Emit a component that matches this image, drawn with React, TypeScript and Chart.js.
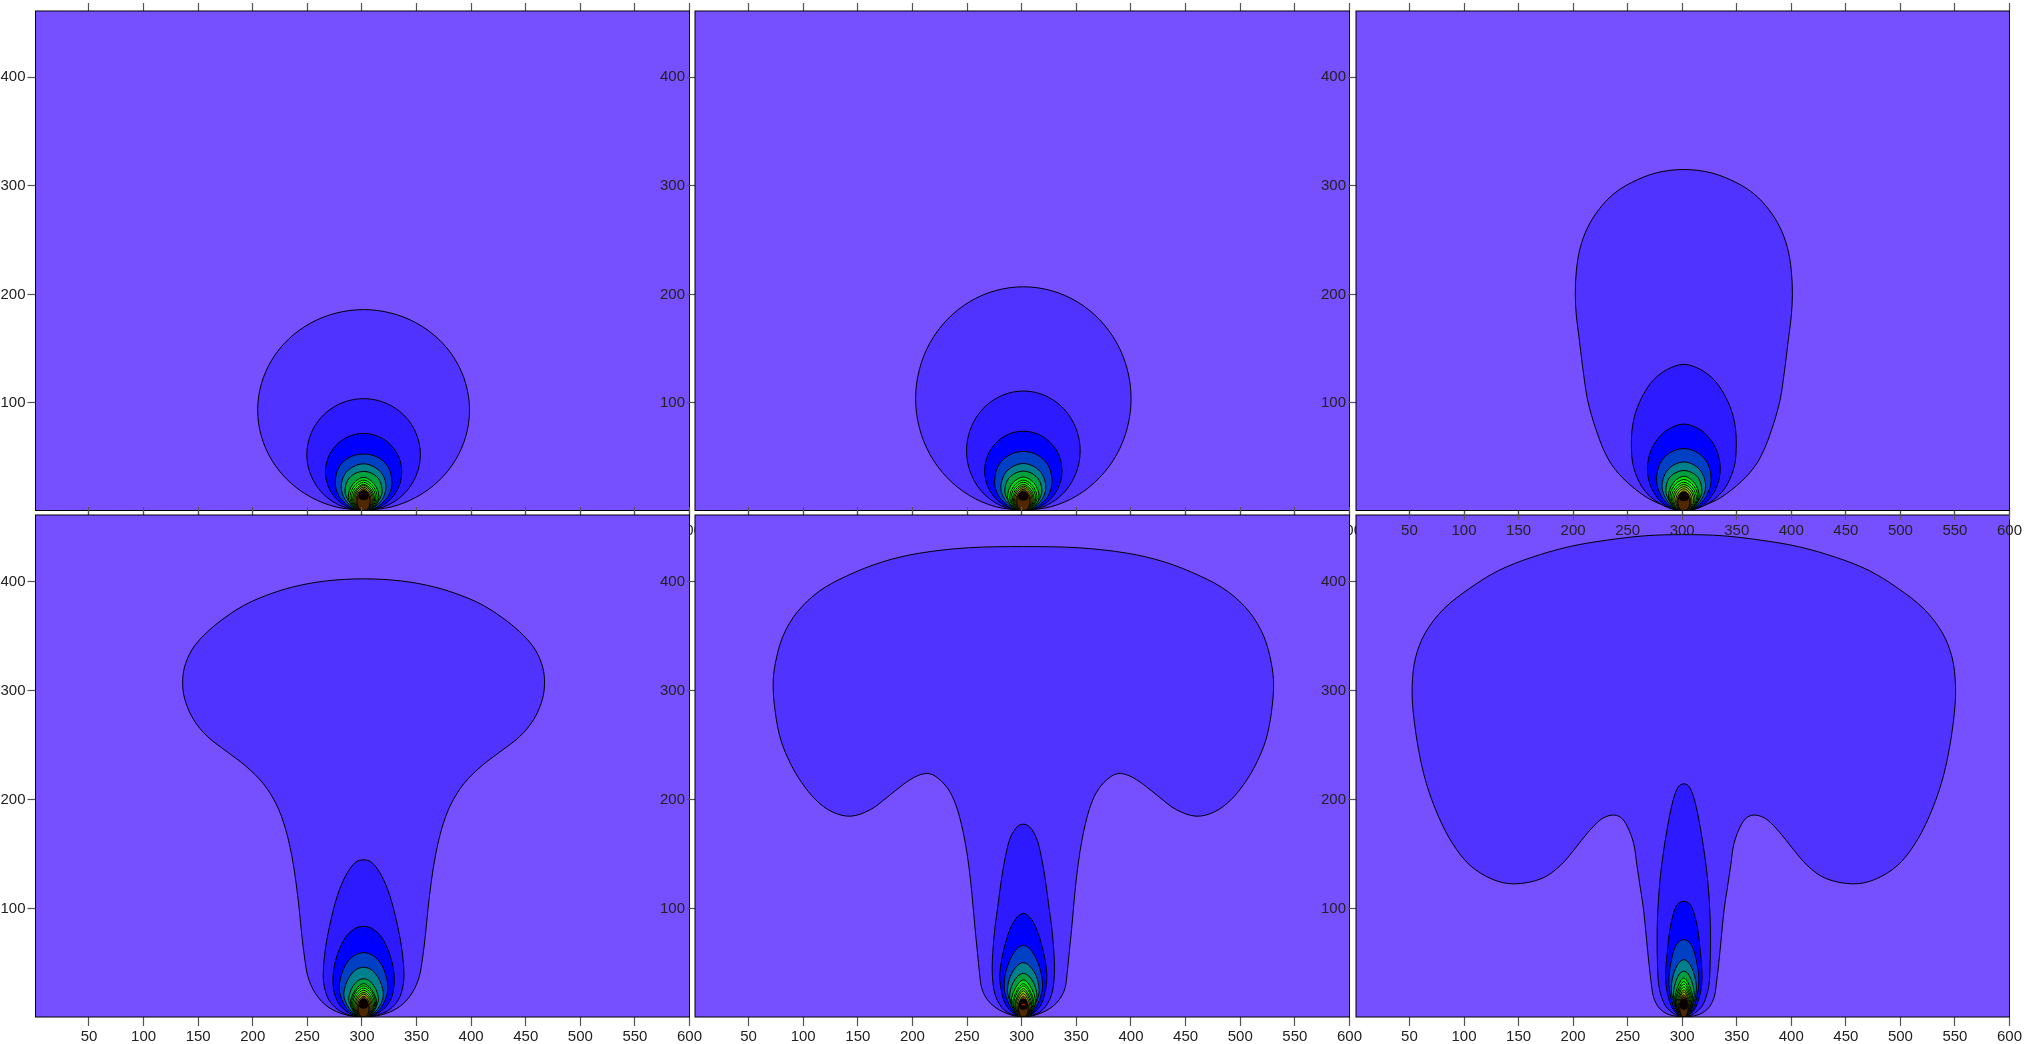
import React, { useEffect, useRef } from "react";
import { Chart, registerables } from "chart.js";

Chart.register(...registerables);

const xTicks = [50, 100, 150, 200, 250, 300, 350, 400, 450, 500, 550, 600];
const yTicks = [100, 200, 300, 400];
const xRange = [1, 600];
const yRange = [1, 461];
const centreX = 301.5;
const baseY = 1;

const backgroundColor = "#764fff";
const levelColors = [
  "#5033ff", "#2d1aff", "#0000ff", "#0040c4", "#00808c", "#00a040", "#00e010", "#00ff00",
  "#20ff00", "#50e800", "#90d000", "#b0b000", "#806000", "#502800", "#0c0000", "#d02000",
];

// Each contour: right half of the outline as [half-width, y], bottom to top.
const panel1 = [
  [[25.1, 4.2], [48.5, 13.4], [68.6, 28.1], [84, 47.3], [93.7, 69.6], [97, 93.5], [93.7, 117.4], [84, 139.8], [68.6, 158.9], [48.5, 173.6], [25.1, 182.8], [0, 186]],
  [[13.5, 2.8], [26, 7.9], [36.8, 16.1], [45, 26.8], [50.2, 39.2], [52, 52.5], [50.2, 65.8], [45, 78.3], [36.8, 88.9], [26, 97.1], [13.5, 102.2], [0, 104]],
  [[9, 2.2], [17.5, 5.8], [24.7, 11.4], [30.3, 18.8], [33.8, 27.3], [35, 36.5], [33.8, 45.7], [30.3, 54.3], [24.7, 61.6], [17.5, 67.2], [9, 70.8], [0, 72]],
  [[9, 2.5], [16, 7], [23, 15], [26, 27], [22.5, 41], [13, 50], [0, 53]],
  [[7, 2.5], [13, 6.5], [18, 13], [20.5, 23], [17.5, 34], [10, 41], [0, 44]],
  [[6, 2.5], [11, 6], [15, 12], [17, 19], [14.5, 29], [8, 35], [0, 37]],
  [[8.4, 3.2], [14, 13], [10, 25], [0, 31.5]],
  [[7.5, 3], [12.5, 12], [9, 23], [0, 29]],
  [[6.7, 2.8], [11.2, 11.5], [8, 21.5], [0, 27]],
  [[6, 2.6], [10, 10.5], [7.2, 20], [0, 25]],
  [[5.4, 2.5], [9, 10], [6.5, 19], [0, 24]],
  [[4.8, 2.4], [8, 9.5], [5.8, 18], [0, 22.5]],
  [[4.2, 2.2], [7, 9], [5, 17], [0, 21]],
  [[3.6, 2.1], [6, 8.5], [4.3, 16], [0, 19.5]],
  [[0, 11], [3.5, 12], [3.8, 16], [3, 18], [0, 18.5]],
];

const panel2 = [
  [[25.5, 4.5], [49.3, 14.8], [69.7, 31.2], [85.4, 52.5], [95.2, 77.3], [98.6, 104], [95.2, 130.7], [85.4, 155.5], [69.7, 176.8], [49.3, 193.2], [25.5, 203.5], [0, 207]],
  [[13.5, 2.9], [26, 8.4], [36.8, 17.1], [45, 28.5], [50.2, 41.8], [52, 56], [50.2, 70.2], [45, 83.5], [36.8, 94.9], [26, 103.6], [13.5, 109.1], [0, 111]],
  [[9.2, 2.2], [17.7, 5.9], [25, 11.7], [30.7, 19.3], [34.2, 28], [35.4, 37.5], [34.2, 47], [30.7, 55.8], [25, 63.3], [17.7, 69.1], [9.2, 72.8], [0, 74]],
  [[9, 2.5], [16, 7], [23, 15], [26.3, 27], [23, 42], [13, 52], [0, 55.4]],
  [[7, 2.5], [13, 6.5], [18, 13], [20.6, 22], [17.5, 34], [10, 41.3], [0, 44.3]],
  [[6, 2.5], [11, 6], [15, 12], [17, 19], [14.5, 29], [8, 35], [0, 37.3]],
  [[8.6, 3.2], [14.4, 13], [10.4, 25.5], [0, 31.8]],
  [[7.5, 3], [12.5, 12], [9, 23], [0, 29]],
  [[6.8, 2.8], [11.3, 11.5], [8.1, 21.5], [0, 27]],
  [[6, 2.6], [10, 10.5], [7.2, 20], [0, 25]],
  [[5.4, 2.5], [9, 10], [6.5, 18.7], [0, 23.5]],
  [[4.8, 2.4], [8, 9.5], [5.8, 17.6], [0, 22]],
  [[4.2, 2.2], [7, 9], [5, 16.5], [0, 20.5]],
  [[3.6, 2.1], [6, 8.5], [4.3, 15.4], [0, 19]],
  [[0, 10.5], [3.5, 11.5], [3.8, 15.5], [3, 17.2], [0, 17.5]],
];

const panel3 = [
  [[8, 1.8], [17, 5], [34, 13], [53, 28], [66, 43], [74, 58], [80, 74], [85, 90], [88.5, 104], [91, 120], [93, 135], [96, 160], [98.5, 180], [99.5, 200], [98.5, 222], [95, 243], [88, 262], [78, 278], [65, 292], [48, 303], [25, 312], [0, 315]],
  [[7, 1.8], [14, 3.5], [23, 8], [31, 14], [38, 22], [43.5, 33], [47, 45], [48, 58], [47.5, 75], [44, 92], [37, 108], [28, 121], [15, 131], [0, 135.6]],
  [[6, 1.8], [12, 3.5], [20, 8], [26, 15], [31, 25], [33.3, 37], [32.5, 48], [29, 59], [23, 68], [14, 76], [0, 80.6]],
  [[9, 3], [16, 8], [22, 17], [25, 29], [22, 44], [13, 54], [0, 58]],
  [[7, 2.5], [13, 7], [18, 15], [20, 24], [17, 35], [10, 42.5], [0, 45.7]],
  [[6, 2.5], [11, 6.5], [15, 13], [16.5, 20], [14, 30], [8, 35.5], [0, 37.8]],
  [[8.4, 3.2], [14, 13.5], [10, 26], [0, 32.5]],
  [[7.6, 3], [12.8, 12.5], [9.2, 23.5], [0, 29.5]],
  [[6.9, 2.8], [11.5, 11.5], [8.3, 21.5], [0, 27]],
  [[6.1, 2.6], [10.2, 10.5], [7.3, 20], [0, 25]],
  [[5.4, 2.4], [9, 9.7], [6.5, 18.4], [0, 23]],
  [[4.5, 2.2], [7.5, 9], [5.4, 17], [0, 21]],
  [[3.9, 2.1], [6.5, 8], [4.7, 15.2], [0, 19]],
  [[3.3, 2], [5.5, 7.5], [4, 14], [0, 17.5]],
  [[0, 10], [3.5, 11], [3.8, 15], [3, 17], [0, 17.5]],
];

const panel4 = [
  [[12, 2], [25, 6], [36, 13], [45, 24], [51, 38], [54, 55], [56.5, 75], [59, 100], [62, 125], [66, 150], [72, 175], [80, 196], [92, 215], [108, 231], [125, 244], [143, 258], [156, 274], [164, 293], [165.7, 310], [163, 325], [155.6, 340], [143, 354], [127, 367], [110, 378], [90, 387], [65, 395], [35, 400.5], [0, 402.5]],
  [[8, 1.8], [15, 3.5], [24, 8], [32, 17], [36, 29], [37, 41], [36, 55], [34, 70], [31, 85], [27, 102], [22, 118], [15, 133], [7, 143], [0, 145]],
  [[7, 2], [14, 5], [21, 11], [26, 20], [28, 32], [27.5, 44], [25, 55], [21, 66], [15, 76], [7, 82.5], [0, 84]],
  [[7, 2.5], [14, 7], [21, 20], [22, 32], [17, 48], [9, 57], [0, 60]],
  [[6, 2.5], [11.5, 6.5], [17, 16], [18, 24], [14, 36], [7.5, 44], [0, 46.6]],
  [[4.5, 2.5], [9, 6], [13, 14], [13.5, 19], [10.5, 28], [5.5, 34], [0, 36]],
  [[7, 3], [12, 13.5], [8, 25], [0, 31.5]],
  [[6.5, 3], [11, 12.5], [7.5, 24], [0, 29.5]],
  [[6, 2.8], [10, 12], [6.8, 22.5], [0, 27.5]],
  [[5.4, 2.6], [9, 11], [6, 21], [0, 25.5]],
  [[4.8, 2.4], [8, 10], [5.3, 19.5], [0, 23.5]],
  [[4.2, 2.2], [7, 9.5], [4.7, 18], [0, 22]],
  [[3.6, 2.1], [6, 8.7], [4, 16.5], [0, 20]],
  [[3, 2], [5, 8], [3.3, 15], [0, 18.5]],
  [[0, 9], [3.2, 10], [3.4, 14], [2.6, 16.5], [0, 17]],
];

const panel5 = [
  [[8, 2], [17, 5], [26, 10], [33, 17], [38, 27], [40, 40], [42, 60], [44.5, 85], [47, 113], [50, 140], [54, 165], [60, 190], [67, 207], [76, 218], [86, 224], [97, 222], [110, 214], [125, 202], [140, 191], [158, 185], [175, 189], [190, 200], [203, 216], [213, 233], [222, 255], [227, 280], [229, 305], [227, 325], [220, 350], [207, 372], [187, 391], [162, 405], [129, 418], [95, 426], [50, 431], [0, 432]],
  [[5, 1.8], [11, 3.6], [17, 7], [22, 13], [26, 22], [28, 34], [28.5, 46], [28, 60], [26, 83], [23, 105], [19.8, 129], [16, 150], [12, 165], [6, 175], [0, 177.7]],
  [[6, 2.5], [11, 6], [16, 12], [19.5, 22], [21.5, 35], [21, 46], [19, 58], [16, 70], [12, 82], [7, 91], [0, 96]],
  [[5, 2.5], [9.5, 6.5], [16, 20], [17.5, 32], [15, 46], [8, 61], [0, 66.7]],
  [[4.5, 2.5], [8, 6], [13, 18], [14.5, 26], [12, 38], [6, 47.5], [0, 50.8]],
  [[4, 2.5], [7, 6], [11.5, 15], [12.5, 21], [10, 31], [5, 38.5], [0, 41]],
  [[6, 3], [11, 15], [7, 28], [0, 35]],
  [[5.5, 3], [9.7, 13.5], [6, 25], [0, 31.5]],
  [[5, 2.8], [8.7, 12.5], [5.5, 23.5], [0, 29.4]],
  [[4.4, 2.6], [7.7, 11.5], [4.8, 21.5], [0, 27]],
  [[4, 2.4], [7, 10.5], [4.3, 20], [0, 25]],
  [[3.5, 2.2], [6, 9.5], [3.8, 18], [0, 22.5]],
  [[3, 2.1], [5.2, 8.5], [3.2, 16], [0, 20]],
  [[2.6, 2], [4.5, 8], [2.8, 14.5], [0, 18]],
  [[0, 8], [3, 9], [3.2, 13], [2.4, 16.5], [0, 17]],
  [[0, 11.5], [2, 11.7], [2, 13], [0, 13.2]],
];

const panel6 = [
  [[6, 1.5], [13, 3], [19, 6], [24, 11], [28, 20], [30, 33], [32, 50], [34, 70], [37, 100], [40, 120], [43, 140], [46, 160], [52, 176], [58, 184], [66, 186], [76, 182], [88, 170], [100, 155], [113, 140], [130, 128], [155, 123], [175, 127], [196, 140], [212, 160], [225, 185], [236, 215], [243, 245], [248, 280], [249, 305], [246, 330], [237, 353], [220, 375], [196, 394], [170, 410], [140, 422], [105, 432], [70, 438], [35, 442], [0, 443]],
  [[5, 2], [10, 4.6], [16, 10], [20, 18], [23, 30], [24, 45], [24.5, 70], [24, 95], [22, 125], [19, 150], [15, 175], [10, 199], [5, 212], [0, 214.7]],
  [[4, 2], [7, 4.6], [11, 10], [14.5, 20], [16.5, 32], [16.5, 45], [15, 62], [13, 80], [10, 94], [6, 104], [0, 107]],
  [[5, 3.5], [10, 12], [13.7, 32], [12, 50], [7, 67], [0, 72]],
  [[4, 3], [8, 10], [11.5, 26], [9.5, 40], [5, 50], [0, 53.5]],
  [[3.5, 3], [6.5, 8], [9.5, 21], [7.8, 32], [4, 40.5], [0, 43]],
  [[4.8, 3], [8.3, 17], [5, 30], [0, 36.7]],
  [[4.4, 3], [7.7, 15], [4.6, 27], [0, 33.5]],
  [[4, 2.8], [7, 14], [4.2, 25], [0, 31]],
  [[3.6, 2.6], [6.3, 13], [3.8, 23], [0, 28.5]],
  [[3.2, 2.4], [5.6, 12], [3.4, 21], [0, 26]],
  [[2.9, 2.2], [5, 11], [3, 19.5], [0, 24]],
  [[2.5, 2.1], [4.4, 10], [2.7, 17.5], [0, 21.5]],
  [[2.2, 2], [3.8, 9], [2.3, 16], [0, 19.5]],
  [[0, 8], [2.6, 9], [2.8, 13], [2.2, 16.5], [0, 17]],
];

// Painting order matters: later panels hide the tick labels of earlier ones.
const panels = [
  { contours: panel1, left: 35.5, top: 9.3, right: 689.5, bottom: 510.5 },
  { contours: panel2, left: 695, top: 9.3, right: 1349.5, bottom: 510.5 },
  { contours: panel4, left: 35.5, top: 515, right: 689.5, bottom: 1017 },
  { contours: panel5, left: 695, top: 515, right: 1349.5, bottom: 1017 },
  { contours: panel6, left: 1356, top: 515, right: 2010.5, bottom: 1017 },
  { contours: panel3, left: 1356, top: 8.3, right: 2010.5, bottom: 510.5 },
];

const W = 2024;
const H = 1044;
const Y_AXIS = 35;
const X_AXIS = 27;
const TOP_AXIS = 8;
const TICK = "#555555";
const FONT = { family: "'Liberation Sans', Arial, sans-serif", size: 15 };

function outline(half: number[][]) {
  const closedAtBase = half[0][0] !== 0;
  const right = half.map(([w, y]) => ({ x: centreX + w, y }));
  const left = half
    .filter(([w]) => w !== 0)
    .reverse()
    .map(([w, y]) => ({ x: centreX - w, y }));
  return closedAtBase
    ? [{ x: centreX, y: baseY }, ...right, ...left, { x: centreX, y: baseY }]
    : [...right, ...left, right[0]];
}

const panelFrame = {
  id: "panelFrame",
  beforeDraw(chart: any) {
    const { ctx, chartArea: a } = chart;
    ctx.save();
    ctx.fillStyle = backgroundColor;
    ctx.fillRect(a.left, a.top, a.right - a.left, a.bottom - a.top);
    ctx.restore();
  },
  afterDatasetsDraw(chart: any) {
    const { ctx, chartArea: a } = chart;
    ctx.save();
    ctx.strokeStyle = "#000000";
    ctx.lineWidth = 1;
    ctx.strokeRect(a.left, a.top, a.right - a.left, a.bottom - a.top);
    ctx.restore();
  },
};

function useTicks(values: number[]) {
  return (scale: any) => {
    scale.ticks = values.map((value) => ({ value }));
  };
}

function Panel({ spec }: { spec: (typeof panels)[number] }) {
  const ref = useRef<HTMLCanvasElement | null>(null);
  useEffect(() => {
    if (!ref.current) return;
    const datasets = spec.contours
      .map((half, i) => ({
        data: outline(half),
        showLine: true,
        fill: "shape",
        backgroundColor: levelColors[i],
        borderColor: "#000000",
        borderWidth: 1,
        pointRadius: 0,
        tension: 0.34,
      }))
      .reverse();
    const tickGrid = {
      drawOnChartArea: false,
      drawTicks: true,
      tickColor: TICK,
      tickWidth: 1.2,
    };
    const chart = new Chart(ref.current, {
      type: "scatter",
      data: { datasets } as any,
      plugins: [panelFrame],
      options: {
        animation: false,
        responsive: false,
        events: [],
        layout: {
          padding: {
            left: spec.left - Y_AXIS,
            top: spec.top - TOP_AXIS,
            right: W - spec.right,
            bottom: H - spec.bottom - X_AXIS,
          },
        },
        plugins: { legend: { display: false }, tooltip: { enabled: false } },
        scales: {
          x: {
            type: "linear",
            position: "bottom",
            min: xRange[0],
            max: xRange[1],
            afterBuildTicks: useTicks(xTicks),
            afterFit: (s: any) => { s.height = X_AXIS; },
            border: { display: false },
            grid: { ...tickGrid, tickLength: 9 },
            ticks: { color: "#222222", font: FONT, padding: 2, maxRotation: 0, autoSkip: false },
          },
          xTop: {
            type: "linear",
            axis: "x",
            position: "top",
            min: xRange[0],
            max: xRange[1],
            afterBuildTicks: useTicks(xTicks),
            afterFit: (s: any) => { s.height = TOP_AXIS; },
            border: { display: false },
            grid: { ...tickGrid, tickLength: 8 },
            ticks: { display: false },
          },
          y: {
            type: "linear",
            position: "left",
            min: yRange[0],
            max: yRange[1],
            afterBuildTicks: useTicks(yTicks),
            afterFit: (s: any) => { s.width = Y_AXIS; },
            border: { display: false },
            grid: { ...tickGrid, tickLength: 8 },
            ticks: { color: "#222222", font: FONT, padding: 2, autoSkip: false },
          },
        },
      },
    } as any);
    return () => chart.destroy();
  }, [spec]);
  return (
    <canvas
      ref={ref}
      width={W}
      height={H}
      style={{ position: "absolute", left: 0, top: 0, width: W, height: H, display: "block" }}
    />
  );
}

export default function App() {
  return (
    <div style={{ position: "absolute", left: 0, top: 0, width: W, height: H, overflow: "hidden" }}>
      {panels.map((spec, i) => (
        <Panel key={i} spec={spec} />
      ))}
    </div>
  );
}
